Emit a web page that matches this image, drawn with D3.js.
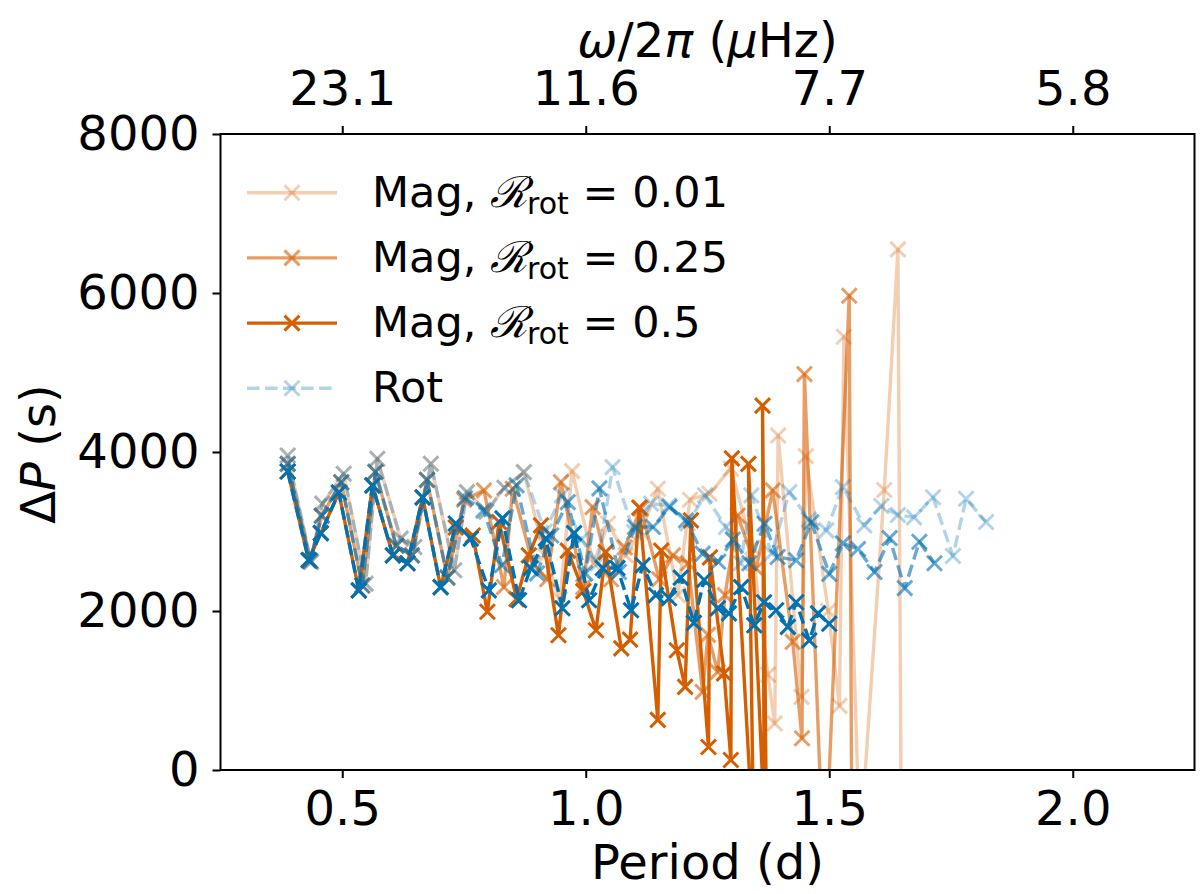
<!DOCTYPE html>
<html>
<head>
<meta charset="utf-8">
<script src="https://cdnjs.cloudflare.com/ajax/libs/d3/7.8.5/d3.min.js"></script>
<style>
  body { margin: 0; background: #fff; }
  svg text { font-family: "DejaVu Sans", sans-serif; fill: #000; }
</style>
</head>
<body>
<svg id="chart" width="1200" height="894"></svg>
<script>
// ---- data: period (d) and period spacing (s) ----
var mag001Period  = [0.388,0.436,0.459,0.503,0.548,0.572,0.620,0.648,0.682,0.730,0.756,0.796,0.833,0.873,0.916,0.947,0.972,1.016,1.046,1.082,1.113,1.148,1.189,1.214,1.254,1.298,1.342,1.374,1.388,1.395,1.443,1.452,1.498,1.521,1.530,1.563,1.613,1.641,1.650];
var mag001Spacing = [3956,2616,3350,3726,2345,3915,2910,2805,3852,2512,3496,3250,3550,3747,2700,2150,3760,2600,3100,2700,3000,3538,2200,3400,3475,3793,2800,1200,586,4208,920,3948,2000,807,5450,-1000,3522,6549,-3000];

var mag025Period  = [0.388,0.434,0.458,0.498,0.541,0.568,0.611,0.643,0.674,0.716,0.750,0.791,0.832,0.850,0.891,0.921,0.949,0.995,1.014,1.052,1.080,1.113,1.151,1.179,1.210,1.240,1.251,1.271,1.286,1.312,1.350,1.384,1.425,1.444,1.449,1.490,1.541,1.548];
var mag025Spacing = [3850,2630,3200,3620,2320,3750,2820,2700,3650,2420,3400,3517,2300,3538,2600,2400,3621,2300,3307,2400,2800,3287,2400,2700,2600,983,1700,1235,2200,3200,2535,3517,1612,400,4979,-1500,5965,-3000];

var mag05Period  = [0.388,0.431,0.456,0.493,0.534,0.562,0.604,0.634,0.665,0.702,0.733,0.768,0.798,0.822,0.858,0.883,0.908,0.944,0.963,0.995,1.021,1.041,1.073,1.091,1.110,1.148,1.155,1.187,1.204,1.216,1.252,1.255,1.284,1.298,1.300,1.345,1.334,1.372,1.363,1.368];
var mag05Spacing = [3755,2640,2980,3490,2260,3580,2700,2600,3430,2300,3050,2950,1990,3120,2150,2700,3077,1695,2760,2250,1758,2740,1530,1640,3300,630,2760,1507,1045,3140,290,2675,1216,126,3920,-1000,3850,-1350,4584,-2500];

var rot001Period  = [0.388,0.436,0.459,0.503,0.548,0.572,0.620,0.648,0.682,0.730,0.756,0.796,0.833,0.873,0.916,0.951,0.991,1.025,1.055,1.099,1.134,1.171,1.209,1.245,1.288,1.318,1.340,1.382,1.418,1.458,1.494,1.528,1.572,1.607,1.641,1.674,1.713,1.754,1.781,1.822];
var rot001Spacing = [3956,2616,3350,3726,2345,3915,2910,2805,3852,2512,3496,3250,3550,3747,3000,3454,2900,2600,3810,2993,3350,3328,3100,3454,3056,2600,3454,2725,3496,3150,3014,3558,3077,3320,3208,3178,3431,2692,3412,3119];

var rot025Period  = [0.388,0.434,0.458,0.498,0.541,0.568,0.611,0.643,0.674,0.716,0.752,0.790,0.828,0.858,0.900,0.929,0.963,0.999,1.028,1.068,1.101,1.138,1.172,1.206,1.240,1.272,1.302,1.336,1.367,1.394,1.432,1.463,1.500,1.528,1.559,1.593,1.624,1.655,1.685,1.716];
var rot025Spacing = [3850,2630,3200,3620,2320,3750,2820,2700,3650,2420,3420,3266,2575,3580,2474,2950,3370,2474,3542,2490,3056,3056,3307,3140,2722,2620,2900,2600,3098,2680,2638,3117,2467,2851,2780,2490,2916,2287,2871,2601];

var rot05Period  = [0.388,0.431,0.456,0.493,0.534,0.562,0.604,0.634,0.665,0.702,0.733,0.764,0.801,0.829,0.863,0.887,0.918,0.952,0.976,1.007,1.035,1.065,1.093,1.117,1.144,1.171,1.195,1.222,1.243,1.271,1.294,1.319,1.346,1.366,1.391,1.415,1.432,1.459,1.477,1.500];
var rot05Spacing = [3755,2640,2980,3490,2260,3580,2700,2600,3430,2300,3100,2910,2260,3165,2135,2540,2910,2035,2980,2135,2540,2540,2010,2575,2200,2160,2420,1850,2390,2035,1970,2300,1820,2110,2010,1800,2110,1630,1970,1840];

var periodTicks = [0.5, 1.0, 1.5, 2.0];
var periodTickLabels = ["0.5", "1.0", "1.5", "2.0"];
var freqTickLabels = ["23.1", "11.6", "7.7", "5.8"];   // omega/2pi in microHz at the period ticks
var spacingTicks = [0, 2000, 4000, 6000, 8000];
var legendRatios = ["0.01", "0.25", "0.5"];

// ---- look ----
var ORANGE = "#D55E00";
var BLUE = "#0072B2";
var LW = 3.4;
var MS = 7.5;
var MW = 3;
var FONT = 48;

var plotL = 220.5, plotR = 1194.5, plotT = 134, plotB = 770;

var x = d3.scaleLinear().domain([0.25, 2.25]).range([plotL, plotR]);
var y = d3.scaleLinear().domain([0, 8000]).range([plotB, plotT]);

var svg = d3.select("#chart");

svg.append("defs").append("clipPath").attr("id", "plotclip")
  .append("rect")
  .attr("x", plotL).attr("y", plotT)
  .attr("width", plotR - plotL).attr("height", plotB - plotT);

// Mag curves first, then Rot curves (Rot drawn on top)
var series = [
  { period: mag001Period, spacing: mag001Spacing, color: ORANGE, alpha: 0.3, dashed: false },
  { period: mag025Period, spacing: mag025Spacing, color: ORANGE, alpha: 0.6, dashed: false },
  { period: mag05Period,  spacing: mag05Spacing,  color: ORANGE, alpha: 1.0, dashed: false },
  { period: rot001Period, spacing: rot001Spacing, color: BLUE,   alpha: 0.3, dashed: true },
  { period: rot025Period, spacing: rot025Spacing, color: BLUE,   alpha: 0.6, dashed: true },
  { period: rot05Period,  spacing: rot05Spacing,  color: BLUE,   alpha: 1.0, dashed: true }
];

var line = d3.line()
  .x(function(d){ return x(d[0]); })
  .y(function(d){ return y(d[1]); });

function crossPath(cx, cy, r) {
  return "M" + (cx - r) + "," + (cy - r) + "L" + (cx + r) + "," + (cy + r) +
         "M" + (cx - r) + "," + (cy + r) + "L" + (cx + r) + "," + (cy - r);
}

var dash = (3.7 * LW) + "," + (1.6 * LW);
var plot = svg.append("g").attr("clip-path", "url(#plotclip)");

series.forEach(function(sr){
  var pts = d3.zip(sr.period, sr.spacing);
  var g = plot.append("g");
  g.append("path")
    .datum(pts)
    .attr("d", line)
    .attr("fill", "none")
    .attr("stroke", sr.color)
    .attr("stroke-opacity", sr.alpha)
    .attr("stroke-width", LW)
    .attr("stroke-linejoin", "round")
    .attr("stroke-dasharray", sr.dashed ? dash : null);

  g.selectAll("path.mk").data(pts).enter().append("path")
    .attr("class", "mk")
    .attr("d", function(d){ return crossPath(x(d[0]), y(d[1]), MS); })
    .attr("fill", "none")
    .attr("stroke", sr.color)
    .attr("stroke-opacity", sr.alpha)
    .attr("stroke-width", MW);
});

// ---- axes ----
var xAxis = svg.append("g")
  .attr("transform", "translate(0," + plotB + ")")
  .call(d3.axisBottom(x).tickValues(periodTicks)
        .tickFormat(function(d, i){ return periodTickLabels[i]; })
        .tickSize(8).tickPadding(13));

var xTop = svg.append("g")
  .attr("transform", "translate(0," + plotT + ")")
  .call(d3.axisTop(x).tickValues(periodTicks)
        .tickFormat(function(d, i){ return freqTickLabels[i]; })
        .tickSize(8).tickPadding(21));

var yAxis = svg.append("g")
  .attr("transform", "translate(" + plotL + ",0)")
  .call(d3.axisLeft(y).tickValues(spacingTicks).tickFormat(d3.format("d")).tickSize(8).tickPadding(13));

[xAxis, xTop, yAxis].forEach(function(a){
  a.select(".domain").remove();
  a.selectAll(".tick line").attr("stroke", "#000").attr("stroke-width", 2);
  a.selectAll(".tick text").attr("font-size", FONT).attr("font-family", "DejaVu Sans").attr("fill", "#000");
});

svg.append("rect")
  .attr("x", plotL).attr("y", plotT)
  .attr("width", plotR - plotL).attr("height", plotB - plotT)
  .attr("fill", "none").attr("stroke", "#000").attr("stroke-width", 2);

// axis titles
svg.append("text")
  .attr("x", (plotL + plotR) / 2).attr("y", 879)
  .attr("text-anchor", "middle").attr("font-size", FONT)
  .text("Period (d)");

var topTitle = svg.append("text")
  .attr("x", (plotL + plotR) / 2).attr("y", 57)
  .attr("text-anchor", "middle").attr("font-size", FONT);
topTitle.append("tspan").attr("font-style", "italic").text("ω");
topTitle.append("tspan").text("/2");
topTitle.append("tspan").attr("font-style", "italic").text("π");
topTitle.append("tspan").text(" (");
topTitle.append("tspan").attr("font-style", "italic").text("μ");
topTitle.append("tspan").text("Hz)");

var yTitle = svg.append("text")
  .attr("transform", "translate(55," + ((plotT + plotB) / 2 + 2) + ") rotate(-90)")
  .attr("text-anchor", "middle").attr("font-size", FONT);
yTitle.append("tspan").text("Δ");
yTitle.append("tspan").attr("font-style", "italic").text("P");
yTitle.append("tspan").text(" (s)");

// ---- legend ----
var legendItems = [
  { label: legendRatios[0], color: ORANGE, alpha: 0.3, dashed: false },
  { label: legendRatios[1], color: ORANGE, alpha: 0.6, dashed: false },
  { label: legendRatios[2], color: ORANGE, alpha: 1.0, dashed: false },
  { label: null,            color: BLUE,   alpha: 0.3, dashed: true }
];
var LEG_FONT = 43;
var legend = svg.append("g");
legendItems.forEach(function(it, i){
  var ly = 192.7 + i * 65.2;
  legend.append("line")
    .attr("x1", 247).attr("x2", 337).attr("y1", ly).attr("y2", ly)
    .attr("stroke", it.color).attr("stroke-opacity", it.alpha)
    .attr("stroke-width", LW)
    .attr("stroke-dasharray", it.dashed ? dash : null);
  legend.append("path")
    .attr("d", crossPath(292, ly, MS))
    .attr("fill", "none").attr("stroke", it.color)
    .attr("stroke-opacity", it.alpha).attr("stroke-width", MW);
  var t = legend.append("text").attr("x", 372).attr("y", ly + 14).attr("font-size", LEG_FONT);
  if (it.label === null) {
    t.text("Rot");
  } else {
    t.append("tspan").text("Mag, ");
    t.append("tspan").attr("font-family", "DejaVu Serif").attr("font-style", "italic").text("ℛ");
    t.append("tspan").attr("font-size", 30).attr("dy", 7).text("rot");
    t.append("tspan").attr("dy", -7).text(" = " + it.label);
  }
});
</script>
</body>
</html>
